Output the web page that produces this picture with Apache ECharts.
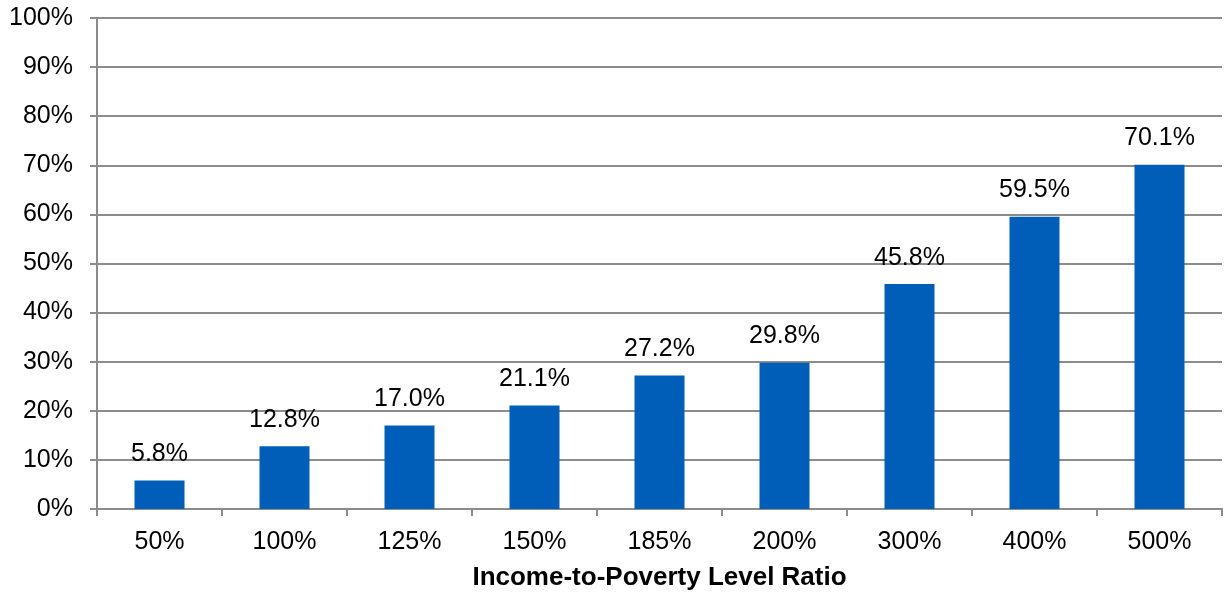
<!DOCTYPE html>
<html>
<head>
<meta charset="utf-8">
<script src="https://cdn.jsdelivr.net/npm/echarts@6/dist/echarts.min.js"></script>
<style>
  html, body { margin: 0; padding: 0; background: #fff; }
  #chart { width: 1224px; height: 595px; }
</style>
</head>
<body>
<div id="chart"></div>
<script>
// categories on the x axis
const ratioLabels = ['50%', '100%', '125%', '150%', '185%', '200%', '300%', '400%', '500%']
// share of people, in percent
const shareValues = [5.8, 12.8, 17.0, 21.1, 27.2, 29.8, 45.8, 59.5, 70.1]
const axisTitle = 'Income-to-Poverty Level Ratio'

const chart = echarts.init(document.getElementById('chart'))
const font = 'Liberation Sans, Arial, sans-serif'
const gray = '#8c8c8c'

chart.setOption({
  animation: false,
  grid: { left: 97, right: 2, top: 18, bottom: 86, outerBoundsMode: 'none' },
  xAxis: {
    type: 'category',
    data: ratioLabels,
    name: axisTitle,
    nameLocation: 'middle',
    nameGap: 56,
    nameTextStyle: { fontFamily: font, fontSize: 26, fontWeight: 'bold', color: '#000' },
    axisLine: { lineStyle: { color: gray, width: 2 } },
    axisTick: { show: true, length: 7, lineStyle: { color: gray, width: 2 } },
    axisLabel: { fontFamily: font, fontSize: 25, color: '#000', margin: 21 },
  },
  yAxis: {
    type: 'value',
    min: 0,
    max: 100,
    interval: 10,
    axisLine: { show: true, lineStyle: { color: gray, width: 2 } },
    axisTick: { show: true, length: 7, lineStyle: { color: gray, width: 2 } },
    splitLine: { lineStyle: { color: gray, width: 2 } },
    axisLabel: { fontFamily: font, fontSize: 25, color: '#000', margin: 24, formatter: '{value}%' },
  },
  series: [{
    type: 'bar',
    data: shareValues,
    barWidth: 50,
    itemStyle: { color: '#005eb8' },
    label: {
      show: true,
      position: 'top',
      distance: 14,
      fontFamily: font,
      fontSize: 25,
      color: '#000',
      formatter: (p) => p.value.toFixed(1) + '%',
    },
  }],
})
</script>
</body>
</html>
